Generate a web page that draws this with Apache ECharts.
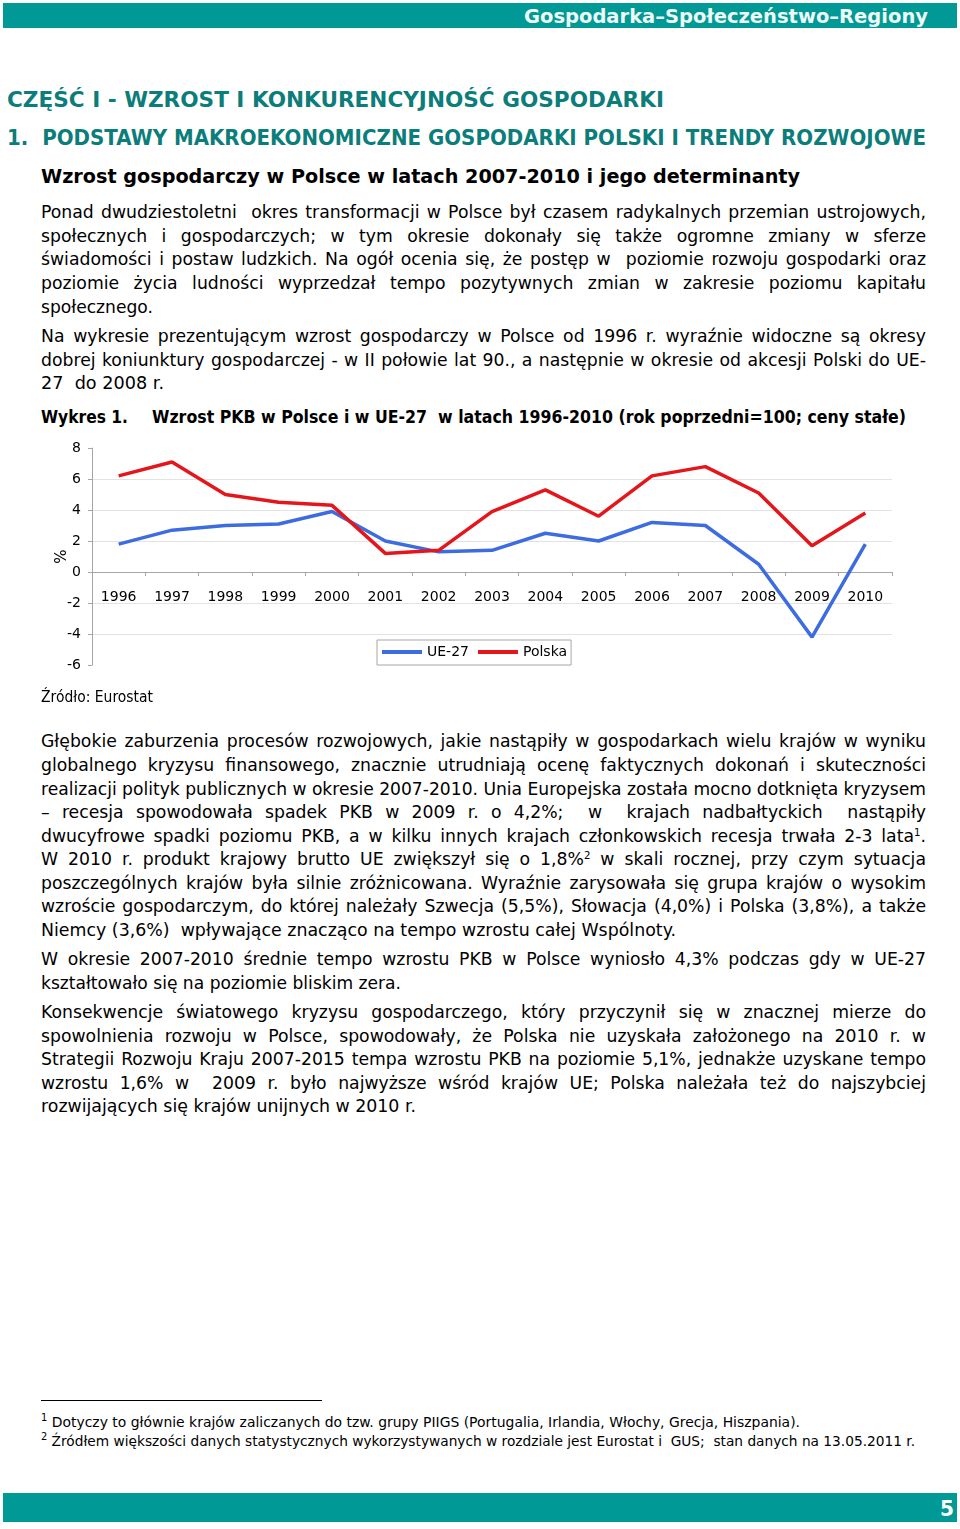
<!DOCTYPE html>
<html>
<head>
<meta charset="utf-8">
<script src="https://cdn.jsdelivr.net/npm/echarts@6/dist/echarts.min.js"></script>
<style>
html,body{margin:0;padding:0;background:#fff;}
#page{position:relative;width:960px;height:1529px;overflow:hidden;background:#fff;}
.bar{position:absolute;background:#009995;}
.ln{position:absolute;white-space:pre;font-family:'DejaVu Sans',sans-serif;font-size:17px;line-height:20px;color:#000;transform-origin:0 50%;display:inline-block;}
.b{font-weight:bold;}
.h{font-weight:bold;color:#0b7d7a;font-size:21px;line-height:24px;}
sup{font-size:10px;line-height:0;vertical-align:6px;}
.fn{font-size:14px;line-height:18px;}
#chart{position:absolute;left:0;top:430px;width:960px;height:270px;}
</style>
</head>
<body>
<div id="page">
  <div class="bar" style="left:3px;top:3px;width:954px;height:25px;"></div>
  <span class="ln b" data-m="fit" data-w="404" data-x="524" data-y="16" style="font-size:20px;color:#eefaf8;">Gospodarka–Społeczeństwo–Regiony</span>

  <span class="ln h" data-m="fit" data-w="657" data-x="7" data-y="100">CZĘŚĆ I - WZROST I KONKURENCYJNOŚĆ GOSPODARKI</span>
  <span class="ln h" data-m="fit" data-w="919" data-x="7" data-y="138">1.  PODSTAWY MAKROEKONOMICZNE GOSPODARKI POLSKI I TRENDY ROZWOJOWE</span>
  <span class="ln b" data-m="fit" data-w="759" data-x="41" data-y="176" style="font-size:20px;line-height:24px;">Wzrost gospodarczy w Polsce w latach 2007-2010 i jego determinanty</span>

  <span class="ln" data-m="just" data-y="212">Ponad dwudziestoletni  okres transformacji w Polsce był czasem radykalnych przemian ustrojowych,</span>
  <span class="ln" data-m="just" data-y="236">społecznych i gospodarczych; w tym okresie dokonały się także ogromne zmiany w sferze</span>
  <span class="ln" data-m="just" data-y="259">świadomości i postaw ludzkich. Na ogół ocenia się, że postęp w  poziomie rozwoju gospodarki oraz</span>
  <span class="ln" data-m="just" data-y="283">poziomie życia ludności wyprzedzał tempo pozytywnych zmian w zakresie poziomu kapitału</span>
  <span class="ln" data-m="fit" data-w="112" data-y="307">społecznego.</span>

  <span class="ln" data-m="just" data-y="336">Na wykresie prezentującym wzrost gospodarczy w Polsce od 1996 r. wyraźnie widoczne są okresy</span>
  <span class="ln" data-m="just" data-y="360">dobrej koniunktury gospodarczej - w II połowie lat 90., a następnie w okresie od akcesji Polski do UE-</span>
  <span class="ln" data-m="fit" data-w="123" data-y="383">27  do 2008 r.</span>

  <span class="ln b" data-m="fit" data-w="87" data-x="41" data-y="417">Wykres 1.</span>
  <span class="ln b" data-m="fit" data-w="754" data-x="152" data-y="417">Wzrost PKB w Polsce i w UE-27  w latach 1996-2010 (rok poprzedni=100; ceny stałe)</span>

  <div id="chart"></div>

  <span class="ln" data-m="fit" data-w="112" data-y="697" style="font-size:15px;">Źródło: Eurostat</span>

  <span class="ln" data-m="just" data-y="741">Głębokie zaburzenia procesów rozwojowych, jakie nastąpiły w gospodarkach wielu krajów w wyniku</span>
  <span class="ln" data-m="just" data-y="765">globalnego kryzysu finansowego, znacznie utrudniają ocenę faktycznych dokonań i skuteczności</span>
  <span class="ln" data-m="just" data-y="789">realizacji polityk publicznych w okresie 2007-2010. Unia Europejska została mocno dotknięta kryzysem</span>
  <span class="ln" data-m="just" data-y="812">– recesja spowodowała spadek PKB w 2009 r. o 4,2%;  w  krajach nadbałtyckich  nastąpiły</span>
  <span class="ln" data-m="just" data-y="836">dwucyfrowe spadki poziomu PKB, a w kilku innych krajach członkowskich recesja trwała 2-3 lata<sup>1</sup>.</span>
  <span class="ln" data-m="just" data-y="859">W 2010 r. produkt krajowy brutto UE zwiększył się o 1,8%<sup>2</sup> w skali rocznej, przy czym sytuacja</span>
  <span class="ln" data-m="just" data-y="883">poszczególnych krajów była silnie zróżnicowana. Wyraźnie zarysowała się grupa krajów o wysokim</span>
  <span class="ln" data-m="just" data-y="906">wzroście gospodarczym, do której należały Szwecja (5,5%), Słowacja (4,0%) i Polska (3,8%), a także</span>
  <span class="ln" data-m="fit" data-w="635" data-y="930">Niemcy (3,6%)  wpływające znacząco na tempo wzrostu całej Wspólnoty.</span>

  <span class="ln" data-m="just" data-y="959">W okresie 2007-2010 średnie tempo wzrostu PKB w Polsce wyniosło 4,3% podczas gdy w UE-27</span>
  <span class="ln" data-m="fit" data-w="360" data-y="983">kształtowało się na poziomie bliskim zera.</span>

  <span class="ln" data-m="just" data-y="1012">Konsekwencje światowego kryzysu gospodarczego, który przyczynił się w znacznej mierze do</span>
  <span class="ln" data-m="just" data-y="1036">spowolnienia rozwoju w Polsce, spowodowały, że Polska nie uzyskała założonego na 2010 r. w</span>
  <span class="ln" data-m="just" data-y="1059">Strategii Rozwoju Kraju 2007-2015 tempa wzrostu PKB na poziomie 5,1%, jednakże uzyskane tempo</span>
  <span class="ln" data-m="just" data-y="1083">wzrostu 1,6% w  2009 r. było najwyższe wśród krajów UE; Polska należała też do najszybciej</span>
  <span class="ln" data-m="fit" data-w="375" data-y="1106">rozwijających się krajów unijnych w 2010 r.</span>

  <div style="position:absolute;left:41px;top:1400px;width:281px;height:1px;background:#000;"></div>
  <span class="ln fn" data-m="fit" data-w="759" data-y="1422"><sup>1</sup> Dotyczy to głównie krajów zaliczanych do tzw. grupy PIIGS (Portugalia, Irlandia, Włochy, Grecja, Hiszpania).</span>
  <span class="ln fn" data-m="fit" data-w="874" data-y="1441"><sup>2</sup> Źródłem większości danych statystycznych wykorzystywanych w rozdziale jest Eurostat i  GUS;  stan danych na 13.05.2011 r.</span>

  <div class="bar" style="left:3px;top:1493px;width:954px;height:29px;"></div>
  <span class="ln b" data-m="fit" data-w="14" data-x="940" data-y="1509" style="font-size:21px;color:#fff;">5</span>
</div>
<script>
// ---- chart data ----
const years = ['1996','1997','1998','1999','2000','2001','2002','2003','2004','2005','2006','2007','2008','2009','2010'];
const ue27 = [1.8, 2.7, 3.0, 3.1, 3.9, 2.0, 1.3, 1.4, 2.5, 2.0, 3.2, 3.0, 0.5, -4.2, 1.8];
const polska = [6.2, 7.1, 5.0, 4.5, 4.3, 1.2, 1.4, 3.9, 5.3, 3.6, 6.2, 6.8, 5.1, 1.7, 3.8];
const seriesNames = ['UE-27', 'Polska'];
const yMin = -6, yMax = 8, yStep = 2;
const yAxisName = '%';

// ---- text line fitting ----
const K = 1.015;
document.querySelectorAll('.ln').forEach(el => {
  const m = el.dataset.m;
  const x = el.dataset.x ? +el.dataset.x : 41;
  const w = el.dataset.w ? +el.dataset.w : 885;
  const h = parseFloat(getComputedStyle(el).lineHeight);
  el.style.left = x + 'px';
  el.style.top = (+el.dataset.y - h / 2) + 'px';
  const nat = el.getBoundingClientRect().width;
  let s = K;
  if (m === 'fit') s = w / nat;
  else if (m === 'just') {
    if (nat * K >= w) s = w / nat;
    else {
      const n = (el.textContent.match(/ /g) || []).length;
      el.style.wordSpacing = ((w / K - nat) / n) + 'px';
    }
  }
  el.style.transform = 'scaleX(' + s + ')';
});

// ---- chart ----
const chart = echarts.init(document.getElementById('chart'), null, {renderer: 'canvas'});
const font = 'DejaVu Sans';
const gridH = 217;
// place the category axis at value 0 (axis offset derived from the value scale)
const zeroOffset = -gridH * (0 - yMin) / (yMax - yMin);
const gridColors = [];
for (let v = yMin; v <= yMax; v += yStep) gridColors.push((v === yMin || v === yMax) ? 'rgba(0,0,0,0)' : '#e2e2e2');
chart.setOption({
  animation: false,
  textStyle: {fontFamily: font},
  grid: {left: 92, top: 18, width: 800, height: gridH, containLabel: false, outerBoundsMode: 'none'},
  legend: {
    data: seriesNames,
    left: 377, top: 210,
    orient: 'horizontal',
    icon: 'rect',
    itemWidth: 40, itemHeight: 4, itemGap: 9,
    borderColor: '#a6a6a6', borderWidth: 1,
    padding: [5, 4, 6, 5],
    textStyle: {fontFamily: font, fontSize: 14, color: '#000'}
  },
  xAxis: {
    type: 'category',
    data: years,
    boundaryGap: true,
    position: 'bottom',
    offset: zeroOffset,
    axisLine: {show: true, onZero: false, lineStyle: {color: '#a6a6a6', width: 1}},
    axisTick: {show: true, length: 4, interval: 0, lineStyle: {color: '#a6a6a6'}},
    axisLabel: {interval: 0, margin: 18, fontFamily: font, fontSize: 14, color: '#000'},
    splitLine: {show: false},
    z: 1
  },
  yAxis: {
    type: 'value',
    min: yMin, max: yMax, interval: yStep,
    name: yAxisName,
    nameLocation: 'middle',
    nameRotate: 90,
    nameGap: 22,
    nameMoveOverlap: false,
    nameTextStyle: {fontFamily: font, fontSize: 15, color: '#000'},
    axisLine: {show: true, lineStyle: {color: '#a6a6a6', width: 1}},
    axisTick: {show: true, length: 4, lineStyle: {color: '#a6a6a6'}},
    axisLabel: {margin: 11, fontFamily: font, fontSize: 14, color: '#000'},
    splitLine: {show: true, lineStyle: {color: gridColors, width: 1}}
  },
  series: [
    {name: seriesNames[0], type: 'line', data: ue27, showSymbol: false, symbol: 'none',
     lineStyle: {color: '#3d6ce0', width: 3.5}, itemStyle: {color: '#3d6ce0'}, z: 3},
    {name: seriesNames[1], type: 'line', data: polska, showSymbol: false, symbol: 'none',
     lineStyle: {color: '#e5161b', width: 3.5}, itemStyle: {color: '#e5161b'}, z: 4}
  ]
});
</script>
</body>
</html>
